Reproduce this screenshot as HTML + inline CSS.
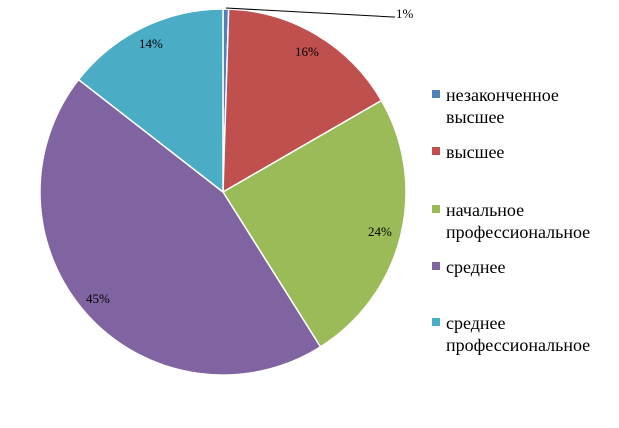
<!DOCTYPE html>
<html><head><meta charset="utf-8"><style>
html,body{margin:0;padding:0;background:#fff;}
svg{display:block;font-family:"Liberation Serif","DejaVu Serif",serif;}
</style></head><body>
<svg width="619" height="428" viewBox="0 0 619 428">
<g stroke="#fff" stroke-width="1.5">
<path d="M223,192 L223,9 A183,183 0 0 1 228.7,9.1 Z" fill="#4F81BD"/>
<path d="M223,192 L228.7,9.1 A183,183 0 0 1 381.5,100.5 Z" fill="#C0504D"/>
<path d="M223,192 L381.5,100.5 A183,183 0 0 1 320.5,346.9 Z" fill="#9BBB59"/>
<path d="M223,192 L320.5,346.9 A183,183 0 0 1 78.6,79.6 Z" fill="#8064A2"/>
<path d="M223,192 L78.6,79.6 A183,183 0 0 1 223,9 Z" fill="#4BACC6"/>
</g>
<polyline points="226,8 393,17 395,17" fill="none" stroke="#000" stroke-width="1"/>
<g font-size="13" fill="#000">
<text x="396" y="18">1%</text>
<text x="295" y="56">16%</text>
<text x="368" y="236">24%</text>
<text x="86" y="303">45%</text>
<text x="139" y="48">14%</text>
</g>
<g>
<rect x="432" y="90" width="8" height="8" fill="#4F81BD"/>
<rect x="432" y="147" width="8" height="8" fill="#C0504D"/>
<rect x="432" y="205" width="8" height="8" fill="#9BBB59"/>
<rect x="432" y="262" width="8" height="8" fill="#8064A2"/>
<rect x="432" y="318" width="8" height="8" fill="#4BACC6"/>
</g>
<g font-size="18" fill="#000">
<text x="446" y="101">незаконченное</text>
<text x="446" y="123">высшее</text>
<text x="446" y="158">высшее</text>
<text x="446" y="216">начальное</text>
<text x="446" y="238">профессиональное</text>
<text x="446" y="273">среднее</text>
<text x="446" y="329">среднее</text>
<text x="446" y="351">профессиональное</text>
</g>
</svg>
</body></html>
